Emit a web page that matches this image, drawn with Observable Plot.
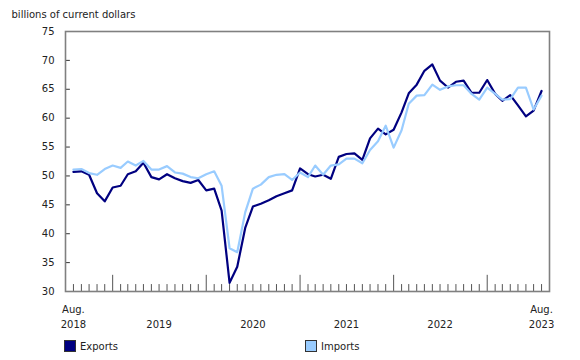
<!DOCTYPE html>
<html><head><meta charset="utf-8">
<script src="https://cdn.jsdelivr.net/npm/d3@7"></script>
<script src="https://cdn.jsdelivr.net/npm/@observablehq/plot@0.6"></script>
<style>
body{margin:0;background:#fff;font-family:"DejaVu Sans",Verdana,sans-serif}
#legend{position:relative;width:580px;height:27px;font-size:10px;color:#222}
.item{position:absolute;top:7px;display:flex;align-items:center;gap:4px}
.sw{width:10px;height:10px;border:1px solid #333;display:inline-block}
</style></head>
<body><div id="chart"></div><div id="legend"></div>
<script>
// Monthly values, Aug. 2018 to Aug. 2023 (billions of current dollars)
const exportsValues = [
  50.7, 50.8, 50.2, 47.0, 45.6, 48.0, 48.3, 50.3, 50.8, 52.3, 49.8, 49.4, 50.3,
  49.6, 49.1, 48.8, 49.3, 47.5, 47.8, 44.0, 31.5, 34.3, 41.0, 44.7, 45.2,
  45.8, 46.5, 47.0, 47.5, 51.3, 50.3, 49.9, 50.2, 49.5, 53.3, 53.8, 53.9,
  52.8, 56.5, 58.2, 57.2, 58.0, 61.0, 64.3, 65.8, 68.2, 69.3, 66.5, 65.3,
  66.3, 66.5, 64.4, 64.4, 66.6, 64.2, 63.0, 64.0, 62.2, 60.3, 61.3, 64.7
];
const importsValues = [
  51.1, 51.2, 50.5, 50.2, 51.2, 51.8, 51.4, 52.5, 51.8, 52.6, 51.1, 51.1, 51.7,
  50.6, 50.4, 49.8, 49.6, 50.3, 50.8, 48.3, 37.5, 36.8, 43.7, 47.8, 48.5,
  49.8, 50.2, 50.3, 49.3, 50.6, 49.8, 51.8, 50.2, 51.8, 52.0, 53.0, 53.0,
  52.2, 54.5, 56.0, 58.7, 54.9, 57.9, 62.5, 63.9, 64.0, 65.8, 64.9, 65.5,
  65.7, 65.7, 64.2, 63.2, 65.3, 64.2, 63.2, 63.3, 65.3, 65.3, 61.5, 63.9
];
const seriesNames = ["Exports", "Imports"];
const seriesColors = ["#000080", "#99ccff"];
const yTicks = [30, 35, 40, 45, 50, 55, 60, 65, 70, 75];
const yLabel = "billions of current dollars";
const xLabelMonths = ["2018-08", "2019-07", "2020-07", "2021-07", "2022-07", "2023-08"];

const months = exportsValues.map((_, i) => new Date(Date.UTC(2018, 7 + i, 1)));
const rows = [];
months.forEach((m, i) => rows.push({date: m, value: exportsValues[i], series: "Exports"}));
months.forEach((m, i) => rows.push({date: m, value: importsValues[i], series: "Imports"}));
const xDomain = [new Date(Date.UTC(2018, 6, 1)), new Date(Date.UTC(2023, 8, 1))];
const labelDates = xLabelMonths.map(s => new Date(s + "-01T00:00:00Z"));
const fmt = d => d.getUTCMonth() === 7 ? `Aug.\n${d.getUTCFullYear()}` : `\n${d.getUTCFullYear()}`;

const chart = Plot.plot({
  width: 580, height: 333,
  marginLeft: 65, marginRight: 31, marginTop: 31, marginBottom: 42,
  style: {fontFamily: "'DejaVu Sans', Verdana, sans-serif", fontSize: "10px", color: "#222", background: "#fff"},
  x: {type: "utc", domain: xDomain},
  y: {domain: [30, 75]},
  color: {domain: seriesNames, range: seriesColors},
  marks: [
    Plot.ruleX(months, {x: d => d, y1: 30, y2: d => d.getUTCMonth() === 0 ? 32.8 : 31.2, stroke: "#555", strokeWidth: 1}),
    Plot.ruleY(yTicks, {y: d => d, x1: xDomain[0], x2: new Date(Date.UTC(2018, 6, 20)), stroke: "#333", strokeWidth: 1}),
    Plot.line(rows, {x: "date", y: "value", z: "series", stroke: "series", strokeWidth: 2.2}),
    Plot.frame({stroke: "#808080", strokeWidth: 1.6}),
    Plot.axisY(yTicks, {tickSize: 0, tickPadding: 11, label: null, fontSize: 10}),
    Plot.axisX(labelDates, {tickSize: 0, tickPadding: 10, tickFormat: fmt, lineHeight: 1.55, label: null, fontSize: 10}),
    Plot.text([yLabel], {frameAnchor: "top-left", dx: -54, dy: -21, textAnchor: "start", fontSize: 10})
  ]
});
document.getElementById("chart").appendChild(chart);

const legend = document.getElementById("legend");
const legendX = [64, 305];
seriesNames.forEach((name, i) => {
  const it = document.createElement("div");
  it.className = "item";
  it.style.left = legendX[i] + "px";
  it.innerHTML = `<span class="sw" style="background:${seriesColors[i]}"></span><span>${name}</span>`;
  legend.appendChild(it);
});
</script>
</body></html>
